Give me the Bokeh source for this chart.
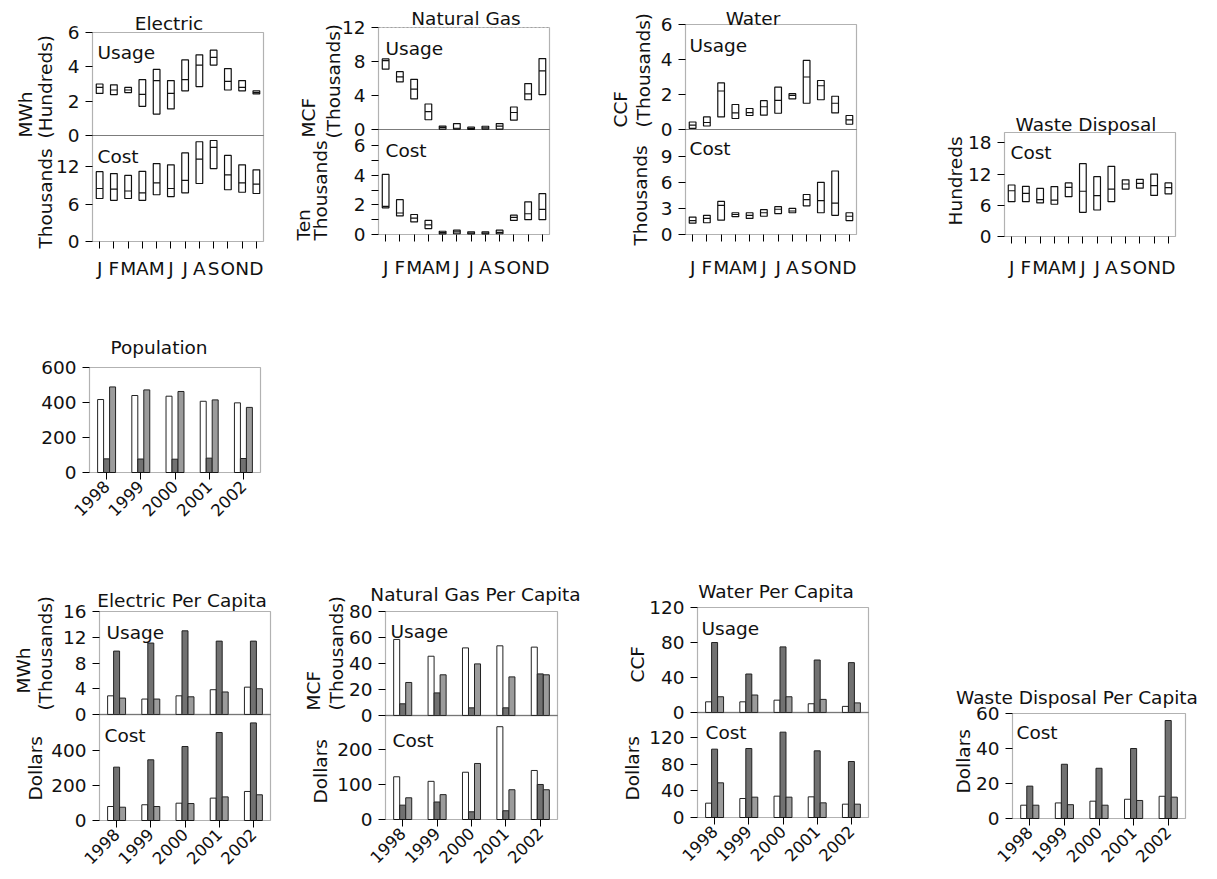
import math
from bokeh.plotting import figure
from bokeh.layouts import row, column
from bokeh.models import (Range1d, LinearAxis, FixedTicker, Label, BoxAnnotation,
                          ColumnDataSource)
from bokeh.transform import dodge
from bokeh.embed import file_html
from bokeh.resources import INLINE

FONT = "DejaVu Sans"
FS = "18.5px"
YS = "16.5px"
INK = "#111111"
DARK = "#717171"
MID = "#9b9b9b"

# ---------------- data ----------------
months = ["J", "F", "M", "A", "M", "J", "J", "A", "S", "O", "N", "D"]
month_x = list(range(1, 13))
years = ["1998", "1999", "2000", "2001", "2002"]
year_x = list(range(1, 6))

elec_use_lo = [2.45, 2.38, 2.5, 1.7, 1.25, 1.55, 2.6, 2.85, 4.1, 2.65, 2.6, 2.42]
elec_use_mid = [2.8, 2.65, 2.65, 2.4, 3.2, 2.45, 3.25, 4.1, 4.55, 3.15, 2.8, 2.5]
elec_use_hi = [3.0, 2.95, 2.8, 3.25, 3.85, 3.2, 4.4, 4.7, 4.97, 3.9, 3.2, 2.6]
elec_cost_lo = [6.9, 6.6, 6.9, 6.6, 7.5, 7.2, 7.8, 9.3, 11.7, 8.3, 7.9, 7.7]
elec_cost_mid = [8.5, 8.4, 8.1, 7.8, 9.4, 8.5, 9.8, 13.2, 15.1, 10.7, 9.4, 9.2]
elec_cost_hi = [11.2, 10.9, 10.6, 11.25, 12.5, 12.3, 14.2, 16.0, 16.2, 13.8, 12.3, 11.5]

gas_use_lo = [7.1, 5.6, 3.6, 1.15, 0.05, 0.05, 0.02, 0.05, 0.05, 1.1, 3.5, 4.1]
gas_use_mid = [8.1, 6.2, 4.75, 2.1, 0.25, 0.15, 0.1, 0.2, 0.4, 2.0, 4.2, 6.9]
gas_use_hi = [8.3, 6.8, 5.9, 3.0, 0.4, 0.7, 0.27, 0.38, 0.7, 2.65, 5.4, 8.35]
gas_cost_lo = [1.8, 1.25, 0.85, 0.4, 0.04, 0.05, 0.04, 0.04, 0.05, 0.95, 1.0, 1.0]
gas_cost_mid = [1.9, 1.45, 1.1, 0.65, 0.12, 0.18, 0.1, 0.1, 0.15, 1.15, 1.4, 1.7]
gas_cost_hi = [4.05, 2.35, 1.35, 0.95, 0.22, 0.29, 0.18, 0.18, 0.29, 1.3, 2.2, 2.75]

water_use_lo = [0.06, 0.2, 0.72, 0.63, 0.8, 0.82, 0.93, 1.75, 1.5, 1.7, 0.95, 0.3]
water_use_mid = [0.25, 0.4, 2.2, 0.95, 0.97, 1.3, 1.67, 1.95, 3.0, 2.5, 1.5, 0.55]
water_use_hi = [0.43, 0.72, 2.66, 1.43, 1.2, 1.65, 2.42, 2.05, 3.95, 2.8, 1.9, 0.8]
water_cost_lo = [1.3, 1.35, 1.65, 2.05, 1.85, 2.1, 2.4, 2.5, 3.3, 2.5, 2.2, 1.6]
water_cost_mid = [1.6, 1.85, 3.35, 2.3, 2.2, 2.5, 2.9, 2.7, 4.0, 3.9, 3.6, 2.1]
water_cost_hi = [2.0, 2.2, 3.8, 2.5, 2.5, 2.85, 3.2, 3.0, 4.6, 6.0, 7.3, 2.5]

waste_cost_lo = [6.7, 6.7, 6.45, 6.2, 7.65, 4.65, 5.1, 6.7, 9.1, 9.3, 7.9, 8.2]
waste_cost_mid = [8.8, 8.3, 7.1, 7.0, 9.45, 8.7, 7.85, 9.1, 10.1, 10.2, 9.8, 9.4]
waste_cost_hi = [9.9, 9.65, 9.25, 9.6, 10.3, 14.0, 11.5, 13.5, 10.9, 11.0, 12.0, 10.3]

pop_s1 = [417, 440, 436, 407, 398]
pop_s2 = [78, 77, 76, 82, 80]
pop_s3 = [489, 472, 463, 415, 372]

elec_pc_use_s1 = [2.9, 2.4, 2.9, 3.85, 4.25]
elec_pc_use_s2 = [9.85, 11.1, 13.0, 11.4, 11.4]
elec_pc_use_s3 = [2.55, 2.4, 2.75, 3.5, 4.0]
elec_pc_cost_s1 = [80, 90, 99, 128, 166]
elec_pc_cost_s2 = [305, 347, 423, 503, 558]
elec_pc_cost_s3 = [76, 80, 97, 135, 147]

gas_pc_use_s1 = [58.5, 45.6, 52.0, 53.6, 52.6]
gas_pc_use_s2 = [9.0, 17.4, 5.9, 5.9, 32.0]
gas_pc_use_s3 = [25.4, 31.3, 39.7, 29.7, 31.3]
gas_pc_cost_s1 = [122, 109, 135, 265, 140]
gas_pc_cost_s2 = [41, 50, 22, 25, 100]
gas_pc_cost_s3 = [62, 71, 160, 85, 85]

water_pc_use_s1 = [12.2, 12.2, 14.1, 10.0, 7.0]
water_pc_use_s2 = [80, 44, 75, 60, 57]
water_pc_use_s3 = [18, 20, 18, 15, 11]
water_pc_cost_s1 = [21.5, 28.5, 32, 31, 20]
water_pc_cost_s2 = [102.5, 103.5, 128, 100, 84]
water_pc_cost_s3 = [52, 30.5, 30.5, 22, 20]

waste_pc_cost_s1 = [7.6, 8.9, 9.9, 11.0, 12.7]
waste_pc_cost_s2 = [18.5, 31, 28.7, 40, 56]
waste_pc_cost_s3 = [7.6, 7.9, 7.6, 10.3, 12.2]

# ---------------- helpers ----------------
BOXW = 0.47
BW = 0.175
MONTH_LABELS = {m: s for m, s in zip(month_x, months)}
YEAR_LABELS = {y: s for y, s in zip(year_x, years)}
MX = (0.5, 12.5)
YX = (0.5, 5.5)
VERT = math.pi / 2


def style_axis(ax, ticks, overrides=None, minor=None, orient=None, standoff=6,
               size=FS):
    ax.ticker = FixedTicker(ticks=ticks, minor_ticks=minor or [])
    ax.major_tick_out = 7
    ax.major_tick_in = 0
    ax.minor_tick_out = 7 if minor else 0
    ax.minor_tick_in = 0
    ax.axis_line_color = None
    ax.major_tick_line_color = "black"
    ax.minor_tick_line_color = "black"
    ax.major_label_text_font = FONT
    ax.major_label_text_font_size = size
    ax.major_label_text_color = INK
    ax.major_label_standoff = standoff
    if overrides:
        ax.major_label_overrides = overrides
    if orient is not None:
        ax.major_label_orientation = orient


def txt(p, text, x, y, dx, dy, align="left", baseline="alphabetic", angle=0.0,
        rn="default", size=FS):
    p.add_layout(Label(x=x, y=y, x_offset=dx, y_offset=dy, text=text,
                       text_align=align, text_baseline=baseline, angle=angle,
                       y_range_name=rn, text_font=FONT, text_font_size=size,
                       text_color=INK))


def vtxt(p, text, x, y, dx, dy, rn="default"):
    # rotated axis title, anchored at its start (bottom) on its baseline
    txt(p, text, x, y, dx, dy, "left", "alphabetic", VERT, rn)


def canvas(w, h, L, R, xr, yr):
    kx = (R - L) / (xr[1] - xr[0])
    p = figure(width=w, height=h,
               x_range=Range1d(xr[0] - L / kx, xr[1] + (w - R) / kx),
               y_range=Range1d(*yr),
               min_border_left=0, min_border_right=0,
               min_border_top=0, min_border_bottom=0,
               toolbar_location=None, output_backend="svg", tools="",
               x_axis_location=None, y_axis_location=None)
    p.outline_line_color = None
    p.xgrid.visible = False
    p.ygrid.visible = False
    p.background_fill_color = "white"
    p.border_fill_color = "white"
    return p


def frame_box(p, xr, bottom, top, rn="default", color="black", width=1.2, dash="solid"):
    p.add_layout(BoxAnnotation(left=xr[0], right=xr[1], bottom=bottom, top=top,
                               y_range_name=rn, fill_alpha=0, fill_color=None,
                               line_color=color, line_width=width, line_dash=dash))


def stacked(w, h, L, R, T, D, B, xr, umax, cmax, u_ticks, c_ticks, c_minor=None,
            div_color=None):
    ku = (D - T) / umax
    kc = (B - D) / cmax
    p = canvas(w, h, L, R, xr, (-(h - D) / ku, umax + T / ku))
    p.extra_y_ranges = {"cost": Range1d(-(h - B) / kc, cmax + D / kc)}
    ua = LinearAxis(fixed_location=xr[0])
    style_axis(ua, u_ticks)
    p.add_layout(ua, "left")
    ca = LinearAxis(y_range_name="cost", fixed_location=xr[0])
    style_axis(ca, c_ticks, minor=c_minor)
    p.add_layout(ca, "left")
    frame_box(p, xr, 0, umax)
    frame_box(p, xr, 0, cmax, rn="cost")
    if div_color:
        frame_box(p, xr, 0, 0, color=div_color, width=2)
    return p


def single(w, h, L, R, T, B, xr, ymax, ticks):
    k = (B - T) / ymax
    p = canvas(w, h, L, R, xr, (-(h - B) / k, ymax + T / k))
    ya = LinearAxis(fixed_location=xr[0])
    style_axis(ya, ticks)
    p.add_layout(ya, "left")
    frame_box(p, xr, 0, ymax)
    return p


def month_axis(p, rn="default", standoff=8):
    xa = LinearAxis(y_range_name=rn, fixed_location=0)
    style_axis(xa, month_x, overrides=MONTH_LABELS, standoff=standoff)
    p.add_layout(xa, "below")


def year_axis(p, rn="default", standoff=4):
    xa = LinearAxis(y_range_name=rn, fixed_location=0)
    style_axis(xa, year_x, overrides=YEAR_LABELS, orient=math.pi / 4,
               standoff=standoff, size=YS)
    p.add_layout(xa, "below")


def draw_boxes(p, lo, mid, hi, rn="default"):
    src = ColumnDataSource(dict(x=month_x, lo=lo, mid=mid, hi=hi))
    p.vbar(x="x", width=BOXW, bottom="lo", top="hi", source=src,
           fill_color=None, line_color=INK, line_width=1.2, y_range_name=rn)
    p.segment(x0=dodge("x", -BOXW / 2), x1=dodge("x", BOXW / 2), y0="mid",
              y1="mid", source=src, line_color=INK, line_width=1.2,
              y_range_name=rn)


def draw_bars(p, s1, s2, s3, rn="default"):
    src = ColumnDataSource(dict(x=year_x, s1=s1, s2=s2, s3=s3))
    for off, key, color in [(-BW, "s1", "white"), (0.0, "s2", DARK), (BW, "s3", MID)]:
        p.vbar(x=dodge("x", off), width=BW, top=key, bottom=0, source=src,
               fill_color=color, line_color="#222222", line_width=1,
               y_range_name=rn)


# ---------------- top row (y 0-300) ----------------
p_el = stacked(280, 300, 92, 263, 32, 135, 241, MX, 6, 17, [0, 2, 4, 6], [0, 6, 12])
draw_boxes(p_el, elec_use_lo, elec_use_mid, elec_use_hi)
draw_boxes(p_el, elec_cost_lo, elec_cost_mid, elec_cost_hi, rn="cost")
month_axis(p_el, rn="cost", standoff=9)
txt(p_el, "Electric", 6.5, 6, -9, 9, "center")
txt(p_el, "Usage", 0.5, 6, 5, -20)
txt(p_el, "Cost", 0.5, 0, 5, -21)
vtxt(p_el, "MWh", 0.5, 0, -67, -2)
vtxt(p_el, "(Hundreds)", 0.5, 0, -47, -3)
vtxt(p_el, "Thousands", 0.5, 0, -47, -7, rn="cost")

p_ng = stacked(310, 300, 98, 269, 27, 129, 234, MX, 12, 7.08, [0, 4, 8, 12], [0, 2, 4, 6],
               c_minor=[1, 3, 5])
# the top edge of this panel is drawn dotted in the original
frame_box(p_ng, MX, 12, 12, color="white", width=2)
frame_box(p_ng, MX, 12, 12, color="#444444", width=1.2, dash="2 2")
draw_boxes(p_ng, gas_use_lo, gas_use_mid, gas_use_hi)
draw_boxes(p_ng, gas_cost_lo, gas_cost_mid, gas_cost_hi, rn="cost")
month_axis(p_ng, rn="cost", standoff=15)
txt(p_ng, "Natural Gas", 6.5, 12, 2, 9, "center")
txt(p_ng, "Usage", 0.5, 12, 7, -21)
txt(p_ng, "Cost", 0.5, 0, 7, -21)
vtxt(p_ng, "MCF", 0.5, 0, -70, -8)
vtxt(p_ng, "(Thousands)", 0.5, 0, -45, -9)
vtxt(p_ng, "Ten", 0.5, 0, -75, -6, rn="cost")
vtxt(p_ng, "Thousands", 0.5, 0, -58, -6, rn="cost")

p_wa = stacked(330, 300, 95, 266, 24, 129, 234, MX, 6, 12.07, [0, 2, 4, 6], [0, 3, 6, 9])
draw_boxes(p_wa, water_use_lo, water_use_mid, water_use_hi)
draw_boxes(p_wa, water_cost_lo, water_cost_mid, water_cost_hi, rn="cost")
month_axis(p_wa, rn="cost", standoff=15)
txt(p_wa, "Water", 6.5, 6, -18, 6, "center")
txt(p_wa, "Usage", 0.5, 6, 4, -21)
txt(p_wa, "Cost", 0.5, 0, 4, -19)
vtxt(p_wa, "CCF", 0.5, 0, -65, 2)
vtxt(p_wa, "(Thousands)", 0.5, 0, -42, 2)
vtxt(p_wa, "Thousands", 0.5, 0, -45, -11, rn="cost")

p_ws = single(297, 300, 84, 255, 132, 236, MX, 20, [0, 6, 12, 18])
draw_boxes(p_ws, waste_cost_lo, waste_cost_mid, waste_cost_hi)
month_axis(p_ws, standoff=13)
txt(p_ws, "Waste Disposal", 6.5, 20, -4, 8, "center")
txt(p_ws, "Cost", 0.5, 20, 6, -20)
vtxt(p_ws, "Hundreds", 0.5, 0, -49, 11)

# ---------------- population (y 300-526) ----------------
p_pop = single(300, 226, 89, 260, 67, 172, YX, 600, [0, 200, 400, 600])
draw_bars(p_pop, pop_s1, pop_s2, pop_s3)
year_axis(p_pop)
txt(p_pop, "Population", 3, 600, -16, 20, "center")

# ---------------- bottom row (y 526-879) ----------------
p_epc = stacked(290, 353, 99, 270, 85, 188, 294, YX, 16, 606, [0, 4, 8, 12, 16],
                [0, 200, 400], div_color="#6a6a6a")
draw_bars(p_epc, elec_pc_use_s1, elec_pc_use_s2, elec_pc_use_s3)
draw_bars(p_epc, elec_pc_cost_s1, elec_pc_cost_s2, elec_pc_cost_s3, rn="cost")
year_axis(p_epc, rn="cost")
txt(p_epc, "Electric Per Capita", 3, 16, -3, 11, "center")
txt(p_epc, "Usage", 0.5, 16, 7, -21)
txt(p_epc, "Cost", 0.5, 0, 5, -21)
vtxt(p_epc, "MWh", 0.5, 0, -76, 21)
vtxt(p_epc, "(Thousands)", 0.5, 0, -54, 4)
vtxt(p_epc, "Dollars", 0.5, 0, -64, 20, rn="cost")

p_gpc = stacked(300, 353, 95, 267, 85, 189, 293, YX, 80, 297, [0, 20, 40, 60, 80],
                [0, 100, 200], div_color="#6a6a6a")
draw_bars(p_gpc, gas_pc_use_s1, gas_pc_use_s2, gas_pc_use_s3)
draw_bars(p_gpc, gas_pc_cost_s1, gas_pc_cost_s2, gas_pc_cost_s3, rn="cost")
year_axis(p_gpc, rn="cost")
txt(p_gpc, "Natural Gas Per Capita", 3, 80, 4, 17, "center")
txt(p_gpc, "Usage", 0.5, 80, 5, -20)
txt(p_gpc, "Cost", 0.5, 0, 7, -25)
vtxt(p_gpc, "MCF", 0.5, 0, -72, 5)
vtxt(p_gpc, "(Thousands)", 0.5, 0, -49, 5)
vtxt(p_gpc, "Dollars", 0.5, 0, -65, 16, rn="cost")

p_wpc = stacked(330, 353, 107, 278, 81, 186, 291, YX, 120, 157.5, [0, 40, 80, 120],
                [0, 40, 80, 120], div_color="#6a6a6a")
draw_bars(p_wpc, water_pc_use_s1, water_pc_use_s2, water_pc_use_s3)
draw_bars(p_wpc, water_pc_cost_s1, water_pc_cost_s2, water_pc_cost_s3, rn="cost")
year_axis(p_wpc, rn="cost")
txt(p_wpc, "Water Per Capita", 3, 120, -7, 16, "center")
txt(p_wpc, "Usage", 0.5, 120, 4, -21)
txt(p_wpc, "Cost", 0.5, 0, 8, -20)
vtxt(p_wpc, "CCF", 0.5, 0, -60, 30)
vtxt(p_wpc, "Dollars", 0.5, 0, -65, 17, rn="cost")

p_spc = single(297, 353, 92, 265, 187, 292, YX, 60, [0, 20, 40, 60])
draw_bars(p_spc, waste_pc_cost_s1, waste_pc_cost_s2, waste_pc_cost_s3)
year_axis(p_spc)
txt(p_spc, "Waste Disposal Per Capita", 3, 60, -22, 16, "center")
txt(p_spc, "Cost", 0.5, 60, 4, -19)
vtxt(p_spc, "Dollars", 0.5, 0, -49, 25)

layout = column(
    row(p_el, p_ng, p_wa, p_ws),
    row(p_pop),
    row(p_epc, p_gpc, p_wpc, p_spc),
)

open("out.html", "w").write(file_html(layout, INLINE))
